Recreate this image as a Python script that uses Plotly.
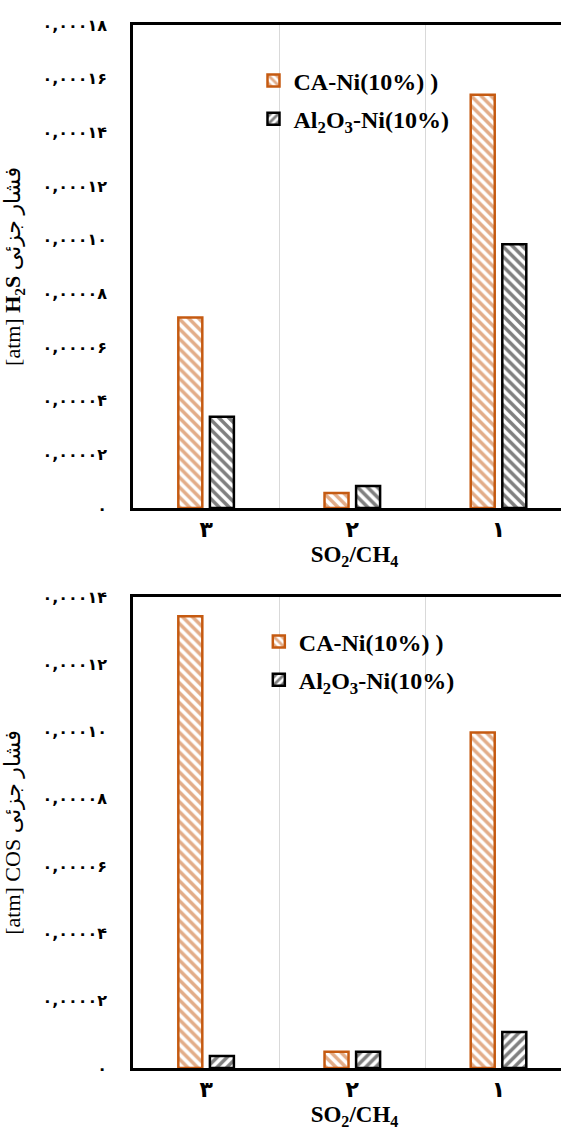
import plotly.graph_objects as go
from plotly.subplots import make_subplots

categories = ["۳", "۲", "۱"]
h2s_ca = [0.0000710, 0.0000056, 0.0001540]
h2s_al = [0.0000340, 0.0000082, 0.0000983]
cos_ca = [0.0001343, 0.0000048, 0.0000997]
cos_al = [0.0000036, 0.0000048, 0.0000107]

top_tickvals = [0, 0.00002, 0.00004, 0.00006, 0.00008, 0.00010, 0.00012, 0.00014, 0.00016, 0.00018]
top_ticktext = ["۰", "۰,۰۰۰۰۲", "۰,۰۰۰۰۴", "۰,۰۰۰۰۶", "۰,۰۰۰۰۸", "۰,۰۰۰۱۰",
                "۰,۰۰۰۱۲", "۰,۰۰۰۱۴", "۰,۰۰۰۱۶", "۰,۰۰۰۱۸"]
bot_tickvals = [0, 0.00002, 0.00004, 0.00006, 0.00008, 0.00010, 0.00012, 0.00014]
bot_ticktext = ["۰", "۰,۰۰۰۰۲", "۰,۰۰۰۰۴", "۰,۰۰۰۰۶", "۰,۰۰۰۰۸", "۰,۰۰۰۱۰",
                "۰,۰۰۰۱۲", "۰,۰۰۰۱۴"]

name_ca = "CA-Ni(10%) )"
name_al = "Al<sub>2</sub>O<sub>3</sub>-Ni(10%)"

ORANGE = "#C55A11"
BLACK = "#000000"

fig = make_subplots(rows=2, cols=1, vertical_spacing=0.08)

def bar(x, y, name, color, shape, legend, offsetgroup, showlegend=True, group=None):
    return go.Bar(
        x=x, y=y, name=name, legend=legend, showlegend=showlegend,
        legendgroup=group, offsetgroup=offsetgroup,
        marker=dict(color="white", line=dict(color=color, width=2.5),
                    pattern=dict(shape=shape, fgcolor=color, bgcolor="white",
                                 size=7, solidity=0.5)),
    )

# top chart
fig.add_trace(bar(categories, h2s_ca, name_ca, ORANGE, "\\", "legend", "ca", group="a"), row=1, col=1)
fig.add_trace(bar(categories, h2s_al, name_al, BLACK, "\\", "legend", "al", showlegend=False, group="b"), row=1, col=1)
fig.add_trace(bar([categories[0]], [None], name_al, BLACK, "/", "legend", "al", group="b"), row=1, col=1)
# bottom chart
fig.add_trace(bar(categories, cos_ca, name_ca, ORANGE, "\\", "legend2", "ca", group="c"), row=2, col=1)
fig.add_trace(bar(categories, cos_al, name_al, BLACK, "/", "legend2", "al", group="d"), row=2, col=1)

serif = "Liberation Serif, DejaVu Sans"
persian = "DejaVu Sans"

# the frame extends past the right edge of the visible window, as in the original
fig.update_layout(
    width=576, height=1131,
    margin=dict(l=133, r=0, t=25, b=63, autoexpand=False),
    paper_bgcolor="white", plot_bgcolor="white",
    barmode="group", bargap=0.568, bargroupgap=0.24,
    legend=dict(x=0.272, y=0.968, xanchor="left", yanchor="top",
                font=dict(family=serif, size=24, color="black", weight="bold"),
                bgcolor="rgba(0,0,0,0)", tracegroupgap=4, traceorder="grouped"),
    legend2=dict(x=0.284, y=0.43, xanchor="left", yanchor="top",
                 font=dict(family=serif, size=24, color="black", weight="bold"),
                 bgcolor="rgba(0,0,0,0)", tracegroupgap=4, traceorder="grouped"),
)

xcommon = dict(type="category", range=[-0.5, 2.53], tickson="boundaries", automargin=False,
               showgrid=True, gridcolor="#d9d9d9", gridwidth=1,
               showline=True, linecolor="black", linewidth=2.5, mirror=True,
               ticks="", tickfont=dict(family=persian, size=22, color="black", weight="bold"),
               title=dict(font=dict(family=serif, size=23, color="black", weight="bold"), standoff=0))
fig.update_xaxes(**xcommon)
fig.update_xaxes(title_text="SO<sub>2</sub>/CH<sub>4</sub>", row=1, col=1)
fig.update_xaxes(title_text="SO<sub>2</sub>/CH<sub>4</sub>", row=2, col=1)

ycommon = dict(showgrid=False, zeroline=False, showline=True, linecolor="black", linewidth=2.5,
               mirror=True, ticks="", ticklabelstandoff=20, automargin=False,
               tickfont=dict(family=persian, size=16, color="black", weight="bold"),
               title=dict(font=dict(family=serif, size=22, color="black"), standoff=16))
fig.update_yaxes(**ycommon)
fig.update_yaxes(range=[0, 0.00018], tickvals=top_tickvals, ticktext=top_ticktext,
                 title_text="[atm] <b>H<sub>2</sub>S</b> فشار جزئی",
                 domain=[0.5369, 1.0], row=1, col=1)
fig.update_yaxes(range=[0, 0.00014], tickvals=bot_tickvals, ticktext=bot_ticktext,
                 title_text="[atm] COS فشار جزئی",
                 domain=[0.0, 0.4516], row=2, col=1)

fig.write_html(
    "out.html",
    config={"displayModeBar": False},
    post_script="document.documentElement.style.margin='0';document.body.style.margin='0';"
                "document.documentElement.style.overflow='hidden';document.body.style.overflow='hidden';",
)
